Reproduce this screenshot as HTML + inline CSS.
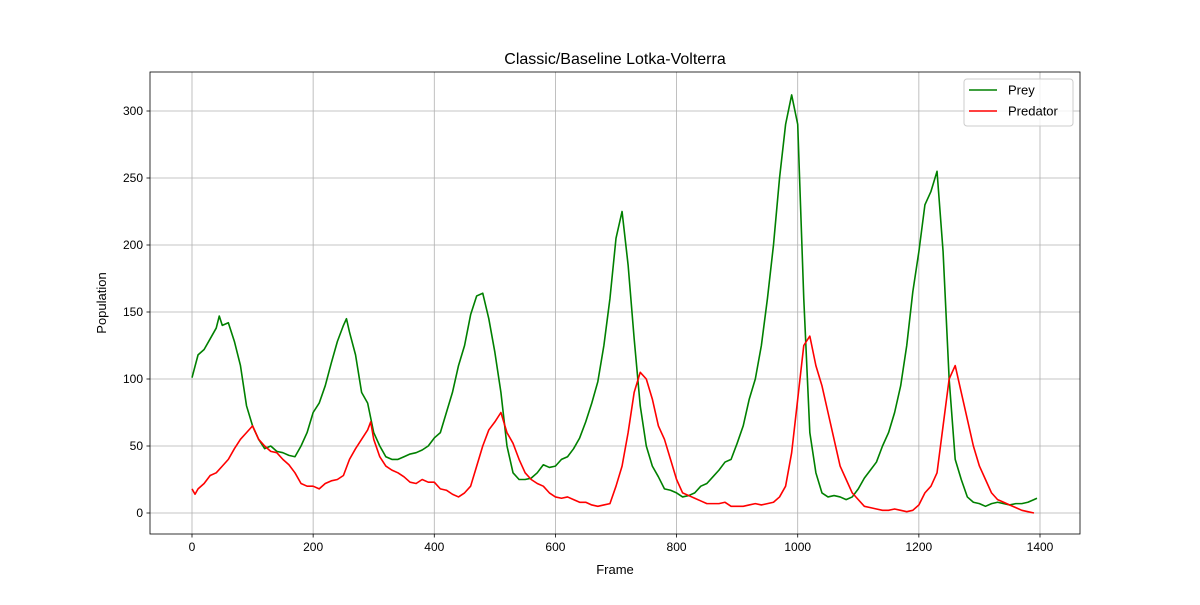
<!DOCTYPE html>
<html><head><meta charset="utf-8"><style>
body{margin:0;background:#fff;}
svg text{font-family:"Liberation Sans","DejaVu Sans",sans-serif;}
</style></head><body>
<svg id="chart" width="1200" height="600" xmlns="http://www.w3.org/2000/svg"></svg>
<script>
const preyFrames=[0,10,20,30,40,45,50,60,70,80,90,100,110,120,130,140,150,160,170,180,190,200,210,220,230,240,250,255,260,270,280,290,300,310,320,330,340,350,360,370,380,390,400,410,420,430,440,450,460,470,480,490,500,510,520,530,540,550,560,570,580,590,600,610,620,630,640,650,660,670,680,690,700,710,720,730,740,750,760,770,780,790,800,810,820,830,840,850,860,870,880,890,900,910,920,930,940,950,960,970,980,990,1000,1010,1020,1030,1040,1050,1060,1070,1080,1090,1100,1110,1120,1130,1140,1150,1160,1170,1180,1190,1200,1210,1220,1230,1240,1250,1260,1270,1280,1290,1300,1310,1320,1330,1340,1350,1360,1370,1380,1390,1395];
const preyValues=[101,118,122,130,138,147,140,142,128,110,80,65,55,48,50,46,45,43,42,50,60,75,82,95,112,128,140,145,135,118,90,82,60,50,42,40,40,42,44,45,47,50,56,60,75,90,110,125,148,162,164,145,120,90,50,30,25,25,26,30,36,34,35,40,42,48,56,68,82,98,125,160,205,225,185,130,80,50,35,27,18,17,15,12,13,15,20,22,27,32,38,40,52,65,85,100,125,160,200,250,290,312,290,160,60,30,15,12,13,12,10,12,18,26,32,38,50,60,75,95,125,165,195,230,240,255,195,100,40,25,12,8,7,5,7,8,7,6,7,7,8,10,11];
const predFrames=[0,5,10,20,30,40,50,60,70,80,90,100,110,120,130,140,150,160,170,180,190,200,210,220,230,240,250,260,270,280,290,295,300,310,320,330,340,350,360,370,380,390,400,410,420,430,440,450,460,470,480,490,500,510,520,530,540,550,560,570,580,590,600,610,620,630,640,650,660,670,680,690,700,710,720,730,740,750,760,770,780,790,800,810,820,830,840,850,860,870,880,890,900,910,920,930,940,950,960,970,980,990,1000,1010,1020,1030,1040,1050,1060,1070,1080,1090,1100,1110,1120,1130,1140,1150,1160,1170,1180,1190,1200,1210,1220,1230,1240,1250,1260,1270,1280,1290,1300,1310,1320,1330,1340,1350,1360,1370,1380,1390];
const predValues=[18,14,18,22,28,30,35,40,48,55,60,65,55,50,46,45,40,36,30,22,20,20,18,22,24,25,28,40,48,55,62,68,55,42,35,32,30,27,23,22,25,23,23,18,17,14,12,15,20,35,50,62,68,75,60,52,40,30,25,22,20,15,12,11,12,10,8,8,6,5,6,7,20,35,60,90,105,100,85,65,55,40,25,15,13,11,9,7,7,7,8,5,5,5,6,7,6,7,8,12,20,45,85,125,132,110,95,75,55,35,25,15,10,5,4,3,2,2,3,2,1,2,6,15,20,30,65,100,110,90,70,50,35,25,15,10,8,6,4,2,1,0];
const xTicks=[0,200,400,600,800,1000,1200,1400];
const yTicks=[0,50,100,150,200,250,300];

const svg=document.getElementById('chart');
const NS='http://www.w3.org/2000/svg';
const L=150,R=1080,T=72,B=534;
const xs=v=>192+v*(848/1400);
const ys=v=>513-v*(402/300);
function mk(tag,attrs,parent){const e=document.createElementNS(NS,tag);for(const k in attrs)e.setAttribute(k,attrs[k]);(parent||svg).appendChild(e);return e;}

const grid=mk('g',{});


xTicks.forEach(t=>{
  const l=mk('line',{x1:xs(t),x2:xs(t),y1:T,y2:B,stroke:'#b0b0b0','stroke-width':0.8},grid);
  
  
  mk('line',{x1:xs(t),x2:xs(t),y1:B,y2:B+3.5,stroke:'#000','stroke-width':0.8});
  const tx=mk('text',{x:xs(t),y:B+17,'font-size':12,'text-anchor':'middle',fill:'#000'});
  tx.textContent=t;
  
  
});
yTicks.forEach(t=>{
  const l=mk('line',{x1:L,x2:R,y1:ys(t),y2:ys(t),stroke:'#b0b0b0','stroke-width':0.8},grid);
  
  
  mk('line',{x1:L-3.5,x2:L,y1:ys(t),y2:ys(t),stroke:'#000','stroke-width':0.8});
  const tx=mk('text',{x:L-7,y:ys(t)+4,'font-size':12,'text-anchor':'end',fill:'#000'});
  tx.textContent=t;
  
  
});

function line(fr,vals,color,name){
  const p=mk('polyline',{points:fr.map((f,i)=>xs(f)+','+ys(vals[i])).join(' '),fill:'none',stroke:color,'stroke-width':1.6,'stroke-linejoin':'round'});
  
  
}
line(preyFrames,preyValues,'green','prey-line');
line(predFrames,predValues,'red','predator-line');

const frame=mk('rect',{x:L,y:T,width:R-L,height:B-T,fill:'none',stroke:'#000','stroke-width':0.8});



const title=mk('text',{x:615,y:64,'font-size':16,'text-anchor':'middle'});
title.textContent='Classic/Baseline Lotka-Volterra';


const xl=mk('text',{x:615,y:574,'font-size':13,'text-anchor':'middle'});
xl.textContent='Frame';


const yl=mk('text',{x:0,y:0,'font-size':13,'text-anchor':'middle',transform:'translate(106,303) rotate(-90)'});
yl.textContent='Population';



const lg=mk('g',{});


mk('rect',{x:964,y:79,width:109,height:47,rx:3,fill:'#fff','fill-opacity':0.8,stroke:'#ccc'},lg);
[['Prey','green',90],['Predator','red',111]].forEach(([n,c,y])=>{
  mk('line',{x1:969,x2:997,y1:y,y2:y,stroke:c,'stroke-width':1.6},lg);
  const t=mk('text',{x:1008,y:y+4.5,'font-size':13},lg);
  t.textContent=n;
  
  
});
</script>
</body></html>
